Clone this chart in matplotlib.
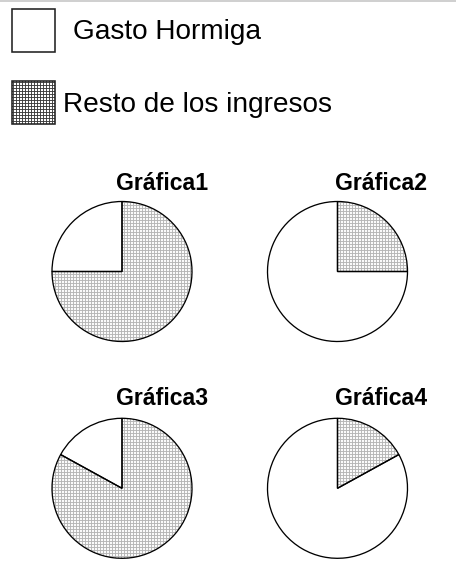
import matplotlib
matplotlib.use("Agg")
import matplotlib.pyplot as plt
from matplotlib.patches import Rectangle
from matplotlib.lines import Line2D

plt.rcParams['font.family'] = ['Liberation Sans', 'DejaVu Sans']
plt.rcParams['hatch.linewidth'] = 0.9

W, H = 456, 569
DPI = 72
legend_labels = ["Gasto Hormiga", "Resto de los ingresos"]
titles = ["Gráfica1", "Gráfica2", "Gráfica3", "Gráfica4"]
gasto = [25, 75, 17, 83]
resto = [75, 25, 83, 17]

fig = plt.figure(figsize=(W / DPI, H / DPI), dpi=DPI)
ax = fig.add_axes([0, 0, 1, 1])

def Y(y):
    return H - y

centers = [(122, 271.5), (337.5, 271.5), (122, 488.3), (337.5, 488.3)]
R = 70
title_right = [208.5, 427, 208.5, 427]
title_base = [189.5, 189.5, 405, 405]

for i in range(4):
    cx, cy = centers[i]
    # fill layer with light dotted grid
    wedges, _ = ax.pie([gasto[i], resto[i]], startangle=90, counterclock=True,
                       center=(cx, Y(cy)), radius=R,
                       colors=['white', 'white'],
                       wedgeprops=dict(edgecolor='#b4b4b4', linewidth=0))
    wedges[1].set_hatch('+' * 4)
    wedges[1].set_facecolor('#fafafa')
    # outline layer
    ax.pie([gasto[i], resto[i]], startangle=90, counterclock=True,
           center=(cx, Y(cy)), radius=R,
           wedgeprops=dict(facecolor='none', edgecolor='black', linewidth=1.3))
    ax.text(title_right[i], Y(title_base[i]), titles[i], ha='right', va='baseline',
            fontsize=23, fontweight='bold')

# Legend
ax.add_patch(Rectangle((12, Y(52)), 43, 43, facecolor='white', edgecolor='#222222', linewidth=1.6))
lp = Rectangle((12, Y(124)), 43, 43, facecolor='white', edgecolor='#3a3a3a', linewidth=0,
               hatch='+' * 4)
ax.add_patch(lp)
ax.add_patch(Rectangle((12, Y(124)), 43, 43, facecolor='none', edgecolor='#222222', linewidth=1.6))
ax.text(73, Y(38.5), legend_labels[0], ha='left', va='baseline', fontsize=28)
ax.text(63, Y(111.5), legend_labels[1], ha='left', va='baseline', fontsize=28)

ax.add_line(Line2D([0, W], [Y(1), Y(1)], color='#d0d0d0', linewidth=2))

ax.set_xlim(0, W)
ax.set_ylim(0, H)
ax.set_aspect('auto')
ax.axis('off')

fig.savefig("out.png", dpi=DPI)
